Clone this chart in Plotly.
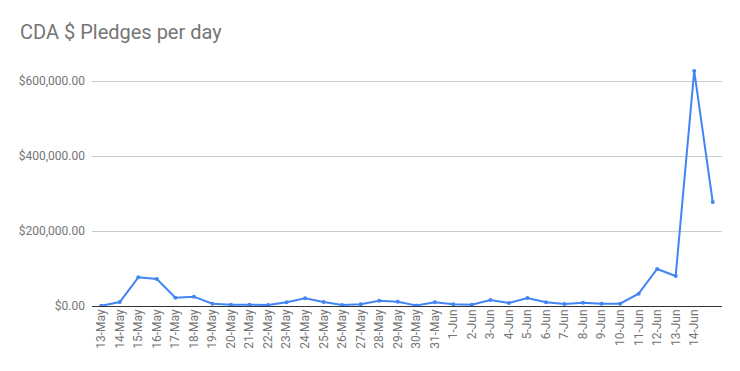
import plotly.graph_objects as go

dates = ["13-May", "14-May", "15-May", "16-May", "17-May", "18-May", "19-May", "20-May",
         "21-May", "22-May", "23-May", "24-May", "25-May", "26-May", "27-May", "28-May",
         "29-May", "30-May", "31-May", "1-Jun", "2-Jun", "3-Jun", "4-Jun", "5-Jun",
         "6-Jun", "7-Jun", "8-Jun", "9-Jun", "10-Jun", "11-Jun", "12-Jun", "13-Jun",
         "14-Jun", "15-Jun"]
pledges = [500, 10700, 76400, 72000, 22200, 24900, 6200, 3600,
           3600, 2500, 9800, 20400, 10700, 2700, 4400, 14200,
           11600, 1500, 9800, 4400, 3600, 16000, 8000, 21300,
           9800, 5300, 8900, 6200, 6200, 32800, 98700, 80000,
           627000, 277300]
tick_labels = dates[:-1]
y_ticks = [0, 200000, 400000, 600000]
y_tick_text = ["$0.00", "$200,000.00", "$400,000.00", "$600,000.00"]

# page body has an 8px default margin; figure is sized to fit the window
W, H, OFF = 732, 363, 8

fig = go.Figure()
fig.add_trace(go.Scatter(
    x=dates, y=pledges, mode="lines+markers",
    line=dict(color="#4285F4", width=2),
    marker=dict(color="#4285F4", size=4),
    hoverinfo="x+y",
))

fig.update_layout(
    width=W, height=H,
    margin=dict(l=92 - OFF, r=18, t=51 - OFF, b=65),
    paper_bgcolor="white", plot_bgcolor="white",
    font=dict(family="Roboto, Arial, sans-serif", color="#757575"),
    title=dict(text="CDA $ Pledges per day", x=(20 - OFF) / W, xanchor="left",
               y=1 - (32 - OFF) / H, yanchor="middle",
               font=dict(size=20, color="#757575", family="Roboto, Arial, sans-serif")),
    showlegend=False,
    xaxis=dict(
        type="category", categoryorder="array", categoryarray=dates,
        range=[-0.5, len(dates) - 0.5],
        tickmode="array", tickvals=tick_labels, ticktext=tick_labels,
        tickangle=-90, tickfont=dict(size=12, color="#757575"),
        showgrid=False, zeroline=False, showline=False, ticks="",
    ),
    yaxis=dict(
        range=[0, 680000],
        tickmode="array", tickvals=y_ticks, ticktext=y_tick_text,
        tickfont=dict(size=12, color="#757575"),
        showgrid=True, gridcolor="#cccccc", gridwidth=1,
        zeroline=True, zerolinecolor="#333333", zerolinewidth=1,
        showline=False, ticks="", ticklabelstandoff=6,
    ),
)

fig.write_html("out.html")
